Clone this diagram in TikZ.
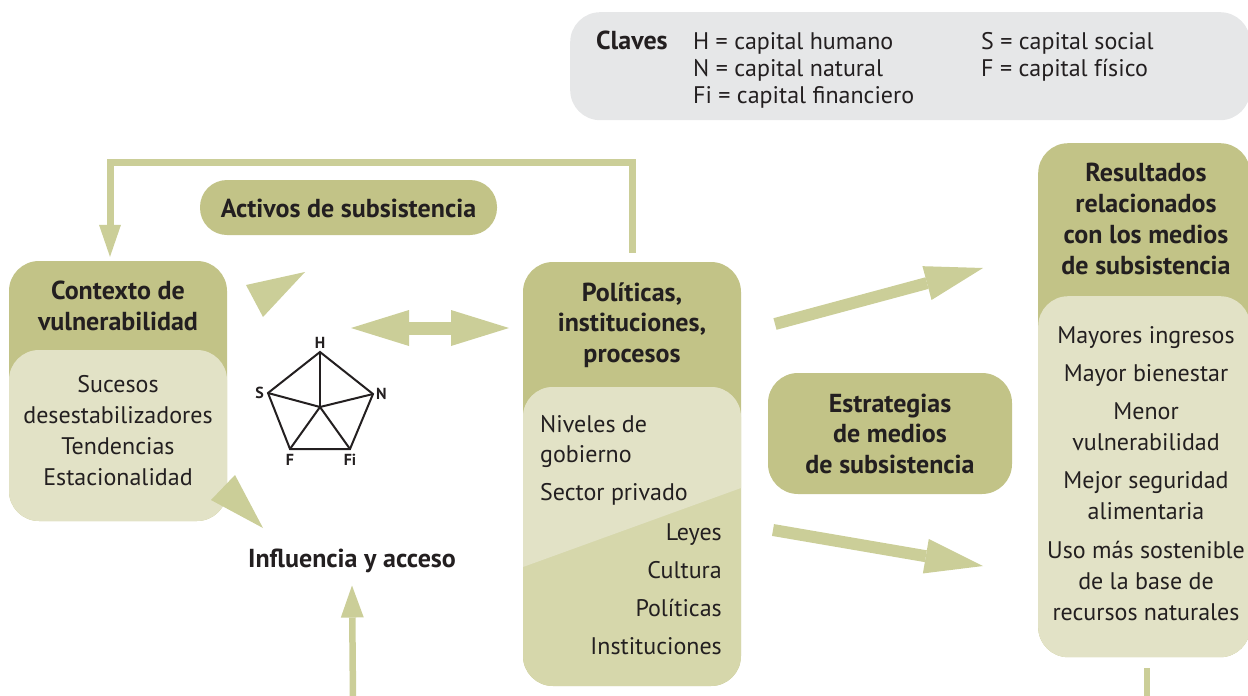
\documentclass[tikz,border=0pt]{standalone}
\usepackage{fontspec}
\setmainfont{PT Sans}
\usetikzlibrary{arrows.meta,positioning}

\definecolor{olive}{HTML}{C2C387}
\definecolor{pale}{HTML}{E2E2C6}
\definecolor{midpale}{HTML}{D6D7AB}
\definecolor{arrowc}{HTML}{CBCE98}
\definecolor{keygray}{HTML}{E6E7E8}
\definecolor{ink}{HTML}{231F20}

\tikzset{
  headbox/.style={fill=olive, rounded corners=30pt, inner sep=0pt},
  bodybox/.style={fill=pale, rounded corners=30pt, inner sep=0pt},
  listtext/.style={font=\fontsize{24}{31}\selectfont, text=ink, inner sep=0pt, align=center},
  titletext/.style={font=\bfseries\fontsize{26}{30.5}\selectfont, text=ink, inner sep=0pt, align=center},
  pentlabel/.style={font=\bfseries\fontsize{16}{16}\selectfont, text=ink, inner sep=0pt},
  fatarrow/.style={draw=arrowc, line width=13pt, -{Triangle[length=58pt,width=36pt,line width=0pt]}},
  thinarrow/.style={draw=arrowc, line width=6.5pt, -{Triangle[length=32pt,width=23pt,line width=0pt]}}
}

\begin{document}
\begin{tikzpicture}[x=1pt,y=1pt]
\useasboundingbox (0,0) rectangle (1248,-696);

% claves
\node (keys) [fill=keygray, rounded corners=30pt, inner sep=0pt, minimum width=680pt, minimum height=108pt, anchor=north west] at (570,-12) {};
\node (keytitle) [titletext, anchor=base west] at (596,-49) {Claves};
\node (keyleft) [listtext, align=left, font=\fontsize{24}{27}\selectfont, anchor=base west] at (693,-103) {H = capital humano\\N = capital natural\\Fi = capital financiero};
\node (keyright) [listtext, align=left, font=\fontsize{24}{27}\selectfont, anchor=base west] at (981,-76) {S = capital social\\F = capital físico};

% activos
\node (act) [headbox, rounded corners=27pt, minimum width=297pt, minimum height=55pt] at (348.5,-207.5) {};
\node (acttitle) [titletext, anchor=base] at (348.5,-217) {Activos de subsistencia};

% contexto de vulnerabilidad
\node (ctx) [headbox, minimum width=218pt, minimum height=260pt] at (118,-391) {};
\node (ctxbody) [bodybox, minimum width=218pt, minimum height=171pt, anchor=south] at (ctx.south) {};
\node (ctxtitle) [titletext, anchor=base] at (118,-330) {Contexto de\\vulnerabilidad};
\node (ctxlist) [listtext, anchor=base] at (118,-485) {Sucesos\\desestabilizadores\\Tendencias\\Estacionalidad};

% politicas, instituciones, procesos
\node (pol) [headbox, minimum width=218pt, minimum height=424pt] at (632,-474) {};
\begin{scope}
  \clip [rounded corners=30pt] (523,-387) rectangle (741,-686);
  \fill [midpale] (523,-387) rectangle (741,-686);
  \fill [pale] (523,-387) -- (741,-387) -- (741,-488) -- (523,-567) -- cycle;
\end{scope}
\node (poltitle) [titletext, anchor=base] at (632,-362) {Políticas,\\instituciones,\\procesos};
\node (polleft) [listtext, align=left, font=\fontsize{24}{30}\selectfont, anchor=base west] at (540,-500) {Niveles de\\gobierno\\[8pt]Sector privado};
\node (polright) [listtext, align=right, font=\fontsize{24}{38}\selectfont, anchor=base east] at (722,-654) {Leyes\\Cultura\\Políticas\\Instituciones};

% estrategias
\node (est) [headbox, minimum width=244pt, minimum height=121pt] at (890,-433.5) {};
\node (esttitle) [titletext, anchor=base] at (890,-473) {Estrategias\\de medios\\de subsistencia};

% resultados
\node (res) [headbox, minimum width=212pt, minimum height=514pt, anchor=north west] at (1038,-143) {};
\node (resbody) [bodybox, minimum width=212pt, minimum height=361pt, anchor=south] at (res.south) {};
\node (restitle) [titletext, font=\bfseries\fontsize{26}{31}\selectfont, anchor=base] at (1146,-274) {Resultados\\relacionados\\con los medios\\de subsistencia};
\node (reslist) [listtext, anchor=base] at (1146,-620) {Mayores ingresos\\[7pt]Mayor bienestar\\[7pt]Menor\\vulnerabilidad\\[7pt]Mejor seguridad\\alimentaria\\[8pt]Uso más sostenible\\de la base de\\recursos naturales};

% pentagono de activos
\coordinate (H) at (320,-352);
\coordinate (N) at (373,-394);
\coordinate (Fi) at (350,-449);
\coordinate (F) at (290,-449);
\coordinate (S) at (268,-393);
\coordinate (O) at (320,-407);
\draw [ink, line width=2pt, line join=miter] (H) -- (N) -- (Fi) -- (F) -- (S) -- cycle;
\foreach \v in {H,N,Fi,F,S}
  \draw [ink, line width=2pt] (O) -- (\v);
\node (lH) [pentlabel, above=3pt of H] {H};
\node (lN) [pentlabel, right=3pt of N] {N};
\node (lFi) [pentlabel, below=5pt of Fi] {Fi};
\node (lF) [pentlabel, below=5pt of F] {F};
\node (lS) [pentlabel, left=4pt of S] {S};

\node (infl) [titletext, anchor=base] at (352,-567) {Influencia y acceso};

% cunas hacia el contexto
\fill [arrowc] (246,-285) -- (305,-272) -- (263,-317) -- cycle;
\fill [arrowc] (211,-500) -- (235,-475) -- (263,-528) -- cycle;

% flechas
\coordinate (dblL) at (351,-328);
\coordinate (dblR) at (509,-328);
\coordinate (upT) at (775,-324);
\coordinate (upH) at (983,-268);
\coordinate (dnT) at (773,-530);
\coordinate (dnH) at (983,-566);
\coordinate (inflin) at (353,-700);
\coordinate (resout) at (1147,-700);

\draw [fatarrow, {Triangle[length=58pt,width=36pt,line width=0pt]}-{Triangle[length=58pt,width=36pt,line width=0pt]}] (dblL) -- (dblR);
\draw [fatarrow, line width=12pt, -{Triangle[length=58pt,width=35pt,line width=0pt]}] (upT) -- (upH);
\draw [fatarrow, line width=12pt, -{Triangle[length=58pt,width=35pt,line width=0pt]}] (dnT) -- (dnH);
\draw [thinarrow] (inflin) -- ([yshift=-13pt]infl.south);
\draw [draw=arrowc, line width=6.5pt] ([yshift=-11pt]res.south -| resout) -- (resout);
\draw [thinarrow, line width=7pt, -{Triangle[length=32pt,width=22pt,line width=0pt]}]
  ([yshift=9pt]pol.north) |- (110,-162) -- ([yshift=4pt]ctx.north -| 110,0);
\end{tikzpicture}
\end{document}
